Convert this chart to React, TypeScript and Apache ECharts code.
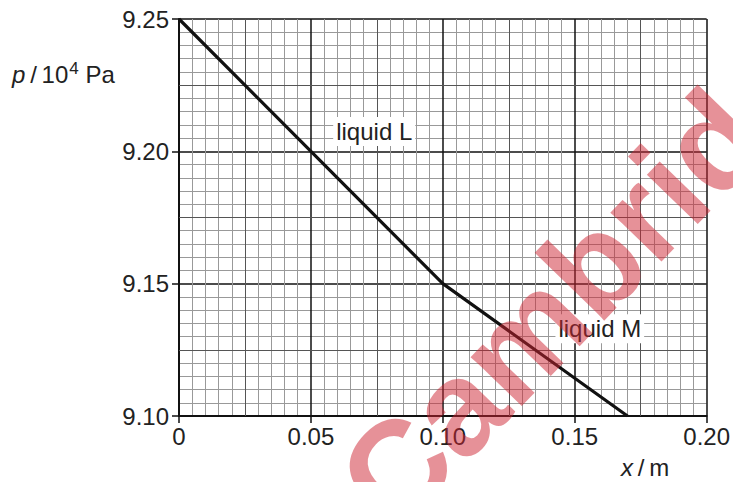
import React, { useEffect, useRef } from "react";
import * as echarts from "echarts";

// data
const xValues = [0, 0.1, 0.17];
const pValues = [9.25, 9.15, 9.1];
const xMin = 0, xMax = 0.2, xStep = 0.05;
const yMin = 9.1, yMax = 9.25, yStep = 0.05;
const labelL = { text: "liquid L", x: 0.074, y: 9.2075 };
const labelM = { text: "liquid M", x: 0.1595, y: 9.133 };

const FONT = '"Liberation Sans", Arial, Helvetica, sans-serif';

export default function App() {
  const ref = useRef<HTMLDivElement>(null);
  useEffect(() => {
    if (!ref.current) return;
    const chart = echarts.init(ref.current, undefined, { renderer: "svg" });
    const gridL = 179, gridT = 19, gridW = 530, gridH = 397;
    const option: any = {
      animation: false,
      backgroundColor: "#fff",
      grid: { left: gridL, top: gridT, width: gridW, height: gridH, containLabel: false },
      xAxis: [
        {
          type: "value", min: xMin, max: xMax, interval: xStep,
          axisLine: { show: true, lineStyle: { color: "#111", width: 2 } },
          axisTick: { show: true, length: 7, lineStyle: { color: "#111", width: 1.5 } },
          axisLabel: {
            color: "#222", fontFamily: FONT, fontSize: 24, margin: 8,
            formatter: (v: number) => (v === 0 ? "0" : v.toFixed(2)),
          },
          splitLine: { show: true, lineStyle: { color: "#111", width: 1.5 } },
          minorTick: { show: false, splitNumber: 10 },
          minorSplitLine: { show: true, lineStyle: { color: "#999", width: 1 } },
          z: 2,
        },
        {
          type: "value", min: xMin, max: xMax, interval: xStep / 2, position: "top",
          axisLine: { show: false }, axisTick: { show: false }, axisLabel: { show: false },
          splitLine: { show: true, lineStyle: { color: ["rgba(0,0,0,0)", "#555"], width: 1 } },
          z: 3,
        },
      ],
      yAxis: [
        {
          type: "value", min: yMin, max: yMax, interval: yStep,
          axisLine: { show: true, lineStyle: { color: "#111", width: 2 } },
          axisTick: { show: true, length: 7, lineStyle: { color: "#111", width: 1.5 } },
          axisLabel: {
            color: "#222", fontFamily: FONT, fontSize: 24, margin: 10,
            formatter: (v: number) => v.toFixed(2),
          },
          splitLine: { show: true, lineStyle: { color: "#111", width: 1.5 } },
          minorTick: { show: false, splitNumber: 10 },
          minorSplitLine: { show: true, lineStyle: { color: "#999", width: 1 } },
          z: 2,
        },
        {
          type: "value", min: yMin, max: yMax, interval: yStep / 2, position: "right",
          axisLine: { show: false }, axisTick: { show: false }, axisLabel: { show: false },
          splitLine: { show: true, lineStyle: { color: ["rgba(0,0,0,0)", "#555"], width: 1 } },
          z: 3,
        },
      ],
      series: [
        {
          type: "line",
          data: xValues.map((x, i) => [x, pValues[i]]),
          showSymbol: false,
          symbol: "none",
          lineStyle: { color: "#111", width: 3.2 },
          z: 5,
          markPoint: {
            symbol: "rect",
            symbolSize: 1,
            itemStyle: { color: "rgba(0,0,0,0)" },
            label: {
              show: true, position: "inside", color: "#222", fontFamily: FONT, fontSize: 24,
              backgroundColor: "#fff", padding: [3, 3, 2, 3],
              formatter: (p: any) => p.name,
            },
            data: [
              { name: labelL.text, coord: [labelL.x, labelL.y] },
              { name: labelM.text, coord: [labelM.x, labelM.y] },
            ],
          },
        },
      ],
      graphic: [
        {
          type: "text", left: 12, top: 60, z: 10,
          style: {
            text: "{i|p}{n|\u2009/\u200910}{s|4}{n|\u2009Pa}",
            rich: {
              i: { fontFamily: FONT, fontSize: 24, fontStyle: "italic", fill: "#222" },
              n: { fontFamily: FONT, fontSize: 24, fill: "#222" },
              s: { fontFamily: FONT, fontSize: 17, fill: "#222", verticalAlign: "top", padding: [0, 2, 12, 1] },
            },
          },
        },
        {
          type: "text", left: 621, top: 455, z: 10,
          style: {
            text: "{i|x}{n|\u2009/\u2009m}",
            rich: {
              i: { fontFamily: FONT, fontSize: 24, fontStyle: "italic", fill: "#222" },
              n: { fontFamily: FONT, fontSize: 24, fill: "#222" },
            },
          },
        },
        {
          type: "text", x: 606, y: 252, rotation: (46 * Math.PI) / 180, z: 100,
          silent: true,
          style: {
            text: "Cambridge",
            font: 'bold 134px "Liberation Sans", Arial, sans-serif',
            fill: "rgba(205,35,50,0.5)",
            align: "center",
            verticalAlign: "middle",
          },
        },
      ],
    };
    chart.setOption(option);
    return () => chart.dispose();
  }, []);
  return (
    <div
      ref={ref}
      style={{ position: "fixed", left: 0, top: 0, width: 733, height: 482, background: "#fff" }}
    />
  );
}
